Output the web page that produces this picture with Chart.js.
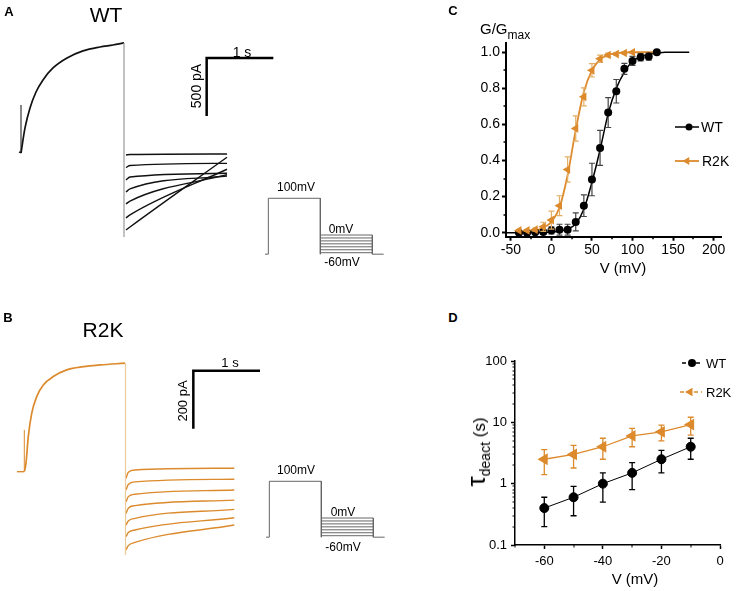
<!DOCTYPE html>
<html><head><meta charset="utf-8">
<script src="https://cdn.jsdelivr.net/npm/chart.js@4.4.0/dist/chart.umd.min.js"></script>
<style>
html,body{margin:0;padding:0;background:#fff;}
body{width:738px;height:591px;position:relative;overflow:hidden;font-family:"Liberation Sans",Arial,sans-serif;color:#000;}
canvas{position:absolute;}
.t{position:absolute;white-space:nowrap;line-height:1;transform:translate(-50%,-50%);}
.l{position:absolute;white-space:nowrap;line-height:1;transform:translate(0,-50%);}
.b{font-weight:bold;font-size:13px;}
</style></head><body>
<canvas id="cA" width="300" height="290" style="left:0;top:0"></canvas>
<canvas id="pA" width="140" height="70" style="left:255px;top:190px"></canvas>
<canvas id="cB" width="300" height="290" style="left:0;top:300px"></canvas>
<canvas id="pB" width="140" height="70" style="left:256px;top:473.3px"></canvas>
<canvas id="cC" width="292" height="250" style="left:440px;top:30px"></canvas>
<canvas id="cD" width="292" height="245" style="left:440px;top:340px"></canvas>

<div class="t b" style="left:9px;top:11px">A</div>
<div class="t" style="left:106px;top:14px;font-size:21px">WT</div>
<div class="t" style="left:242px;top:52px;font-size:14px">1 s</div>
<div class="t" style="left:196px;top:86px;font-size:14px;transform:translate(-50%,-50%) rotate(-90deg)">500 pA</div>
<div class="t" style="left:296px;top:187px;font-size:12px">100mV</div>
<div class="t" style="left:341px;top:229px;font-size:12px">0mV</div>
<div class="t" style="left:342px;top:262px;font-size:12px">-60mV</div>

<div class="t b" style="left:8px;top:317px">B</div>
<div class="t" style="left:103px;top:329px;font-size:21px">R2K</div>
<div class="t" style="left:230px;top:362px;font-size:13px">1 s</div>
<div class="t" style="left:182px;top:401px;font-size:13px;transform:translate(-50%,-50%) rotate(-90deg)">200 pA</div>
<div class="t" style="left:296px;top:470px;font-size:12px">100mV</div>
<div class="t" style="left:343px;top:512px;font-size:12px">0mV</div>
<div class="t" style="left:343px;top:547px;font-size:12px">-60mV</div>

<div class="t b" style="left:453px;top:10px">C</div>
<div class="l" style="left:480px;top:28px;font-size:15px">G/G<span style="font-size:12px;position:relative;top:5px">max</span></div>
<div class="t" style="left:623px;top:267px;font-size:15px">V (mV)</div>
<div class="l" style="left:701px;top:127px;font-size:14px">WT</div>
<div class="l" style="left:702px;top:161px;font-size:14px">R2K</div>

<div class="t b" style="left:453px;top:317px">D</div>
<div class="t" style="left:476px;top:452px;transform:translate(-50%,-50%) rotate(-90deg)"><span style="font-size:26px">τ</span><span style="font-size:14px;position:relative;top:5px">deact</span><span style="font-size:17px"> (s)</span></div>
<div class="t" style="left:635px;top:578px;font-size:15px">V (mV)</div>
<div class="l" style="left:706px;top:363px;font-size:13px">WT</div>
<div class="l" style="left:706px;top:392px;font-size:13px">R2K</div>

<script>
// ===== Panel A: WT current traces (time in s, current in pA) =====
const wtBaseT = [-0.015, 0.015];
const wtBaseI = [20, 11];
const wtSpikeT = [0.015, 0.015];
const wtSpikeI = [11, 425];
const wtActT = [0.015, 0.075, 0.15, 0.24, 0.345, 0.495, 0.705, 0.945, 1.2, 1.395, 1.56];
const wtActI = [11, 227, 399, 537, 641, 744, 830, 891, 925, 942, 960];
const wtOffT = [1.56, 1.56];
const wtOffI = [960, -713];
const wtTailT = [1.59, 1.65, 3.105];
const wtTail1 = [-6, -2, 3];
const wtTail2 = [-114, -97, -78];
const wtTail3 = [-222, -196, -164];
const wtTail4 = [-325, -299, -187];
const wtTail5 = [-428, -403, -176];
const wtTail6 = [-549, -523, -129];
const wtTail7 = [-653, -627, -26];
const wtBarT = [2.8, 3.8];      // 1 s
const wtBarI = [830, 330];      // 500 pA

// ===== Panel B: R2K current traces =====
const r2kBaseT = [-0.045, 0.0645];
const r2kBaseI = [-2, -2];
const r2kSpikeT = [0.0645, 0.0645];
const r2kSpikeI = [-2, 142];
const r2kActT = [0.069, 0.09, 0.1245, 0.1755, 0.2505, 0.3495, 0.4995, 0.7005, 0.9495, 1.2, 1.575];
const r2kActI = [0, 28, 119, 199, 257, 297, 326, 349, 360, 366, 372];
const r2kOffT = [1.5825, 1.5825];
const r2kOffI = [372, -289];
const r2kTailT = [1.59, 1.6245, 1.725, 3.2145];
const r2kTail1 = [-25, -4, 4, 10];
const r2kTail2 = [-65, -46, -37, -28];
const r2kTail3 = [-106, -88, -80, -65];
const r2kTail4 = [-146, -128, -119, -100];
const r2kTail5 = [-186, -172, -163, -132];
const r2kTail6 = [-226, -212, -203, -161];
const r2kTail7 = [-272, -257, -246, -186];
const r2kBarT = [2.6, 3.6];     // 1 s
const r2kBarI = [346, 146];     // 200 pA

// ===== Voltage protocol (schematic time, mV) =====
const protoT = [0, 0.05, 0.83, 1.61, 1.78];
const protoHoldMV = -65;
const protoStepMV = 100;
const protoTailMV = [0, -10, -20, -30, -40, -50, -60];

// ===== Panel C: G/Gmax vs V =====
const gvTicksX = [-50, 0, 50, 100, 150, 200];
const gvTicksY = [0, 0.2, 0.4, 0.6, 0.8, 1.0];
const gvMinorX = [-25, 25, 75, 125, 175];
const gvMinorY = [0.1, 0.3, 0.5, 0.7, 0.9];
const gvV_WT = [-40, -30, -20, -10, 0, 10, 20, 30, 40, 50, 60, 70, 80, 90, 100, 110, 120, 130];
const gvWT = [0, 0, 0.002, 0.004, 0.013, 0.017, 0.017, 0.06, 0.15, 0.295, 0.47, 0.666, 0.784, 0.908, 0.952, 0.972, 0.976, 1.0];
const gvWTerr = [0, 0, 0, 0.01, 0.02, 0.03, 0.03, 0.05, 0.06, 0.09, 0.097, 0.083, 0.065, 0.03, 0.025, 0.02, 0.02, 0];
const gvV_R2K = [-40, -30, -20, -10, 0, 10, 20, 30, 40, 50, 60, 70, 80, 90, 100];
const gvR2K = [0.013, 0.013, 0.017, 0.033, 0.07, 0.15, 0.35, 0.578, 0.753, 0.9, 0.964, 0.985, 0.99, 0.996, 1.0];
const gvR2Kerr = [0, 0.005, 0.008, 0.025, 0.05, 0.055, 0.07, 0.07, 0.05, 0.037, 0.02, 0.01, 0.008, 0.005, 0];
const fitV_WT = [-56, -20, 0, 10, 20, 30, 40, 50, 60, 70, 80, 90, 100, 110, 120, 130, 140, 170];
const fitWT = [0, 0.001, 0.004, 0.01, 0.02, 0.05, 0.13, 0.28, 0.46, 0.66, 0.8, 0.89, 0.95, 0.975, 0.99, 0.995, 1, 1];
const fitV_R2K = [-45, -30, -20, -10, 0, 10, 20, 30, 40, 50, 60, 70, 80, 100, 130];
const fitR2K = [0.003, 0.006, 0.012, 0.028, 0.06, 0.14, 0.32, 0.57, 0.78, 0.9, 0.96, 0.985, 0.995, 1, 1];

// ===== Panel D: tau_deact vs V =====
const tauTicksX = [-60, -40, -20, 0];
const tauMinorX = [-70, -50, -30, -10];
const tauTicksY = [0.1, 1, 10, 100];
const tauMinorY = [0.2,0.3,0.4,0.5,0.6,0.7,0.8,0.9,2,3,4,5,6,7,8,9,20,30,40,50,60,70,80,90];
const tauV = [-60, -50, -40, -30, -20, -10];
const tauWT = [0.4, 0.6, 1.0, 1.5, 2.5, 4.0];
const tauWTlo = [0.2, 0.3, 0.5, 0.8, 1.5, 2.5];
const tauWThi = [0.6, 0.9, 1.5, 2.2, 3.5, 5.5];
const tauR2K = [2.5, 3.0, 4.0, 6.0, 7.0, 9.2];
const tauR2Klo = [1.4, 1.8, 2.5, 4.0, 5.0, 6.2];
const tauR2Khi = [3.6, 4.2, 5.5, 8.0, 9.0, 12.1];

const ORANGE = '#DC8A2C';
Chart.defaults.font.family = '"Liberation Sans", Arial, Helvetica, sans-serif';
Chart.defaults.color = '#000';
Chart.defaults.animation = false;

const pts = (xs, ys) => xs.map((x, i) => ({x: x, y: ys[i]}));
function lineDs(data, color, width, mono) {
  return {data: data, showLine: true, borderColor: color, backgroundColor: color, borderWidth: width,
          pointRadius: 0, pointHoverRadius: 0, tension: 0, fill: false,
          cubicInterpolationMode: mono ? 'monotone' : 'default', borderJoinStyle: 'miter'};
}
function bareOpts(xmin, xmax, ymin, ymax, ytype) {
  return {responsive: false, devicePixelRatio: 1, events: [], layout: {padding: 0},
    plugins: {legend: {display: false}, tooltip: {enabled: false}},
    scales: {x: {type: 'linear', display: false, min: xmin, max: xmax},
             y: {type: ytype || 'linear', display: false, min: ymin, max: ymax}}};
}

// piecewise display scale for the schematic protocol (negative steps drawn compressed)
class PiecewiseScale extends Chart.LinearScale {
  getPixelForValue(v) { return super.getPixelForValue(v < 0 ? v * 0.804 : v); }
}
PiecewiseScale.id = 'piecewise';
PiecewiseScale.defaults = Chart.LinearScale.defaults;
Chart.register(PiecewiseScale);

function traceChart(id, base, spike, act, off, tailT, tails, bar, color, offColor, xmin, xmax, ymin, ymax) {
  const ds = [];
  ds.push(lineDs(pts(off[0], off[1]), offColor, 1.2));
  tails.forEach(tl => ds.push(lineDs(pts(tailT, tl), color, 1.4, true)));
  ds.push(lineDs(pts(base[0], base[1]), color, 1.4));
  ds.push(lineDs(pts(spike[0], spike[1]), color, 1));
  ds.push(lineDs(pts(act[0], act[1]), color, 1.7, true));
  const barPts = [{x: bar[0][0], y: bar[1][1]}, {x: bar[0][0], y: bar[1][0]}, {x: bar[0][1], y: bar[1][0]}];
  ds.push(lineDs(barPts, '#000', 2.5));
  new Chart(document.getElementById(id), {type: 'scatter', data: {datasets: ds},
    options: bareOpts(xmin, xmax, ymin, ymax)});
}
traceChart('cA', [wtBaseT, wtBaseI], [wtSpikeT, wtSpikeI], [wtActT, wtActI], [wtOffT, wtOffI],
  wtTailT, [wtTail1, wtTail2, wtTail3, wtTail4, wtTail5, wtTail6, wtTail7], [wtBarT, wtBarI],
  '#111', '#9a9a9a', -0.3, 4.2, -1170, 1330);
traceChart('cB', [r2kBaseT, r2kBaseI], [r2kSpikeT, r2kSpikeI], [r2kActT, r2kActI], [r2kOffT, r2kOffI],
  r2kTailT, [r2kTail1, r2kTail2, r2kTail3, r2kTail4, r2kTail5, r2kTail6, r2kTail7], [r2kBarT, r2kBarI],
  ORANGE, '#EDCB98', -0.3, 4.2, -410, 590);

function protoChart(id) {
  const T = protoT, h = protoHoldMV, s = protoStepMV;
  const ds = [];
  ds.push(lineDs([{x:T[0],y:h},{x:T[1],y:h},{x:T[1],y:s},{x:T[2],y:s},{x:T[2],y:h}], '#666', 1));
  protoTailMV.forEach(v => ds.push(lineDs([{x:T[2],y:v},{x:T[3],y:v}], '#666', 1)));
  ds.push(lineDs([{x:T[3],y:protoTailMV[0]},{x:T[3],y:h},{x:T[4],y:h}], '#666', 1));
  new Chart(document.getElementById(id), {type: 'scatter', data: {datasets: ds},
    options: bareOpts(-0.15, 1.95, -68.1, 122.6, 'piecewise')});
}
protoChart('pA');
protoChart('pB');

// ---------- helpers for panels C and D ----------
const errPlugin = {
  id: 'errbars',
  beforeDatasetDraw(chart, args) {
    const ds = chart.data.datasets[args.index];
    if (!ds.errLo) return;
    const xs = chart.scales.x, ys = chart.scales.y, ctx = chart.ctx;
    ctx.save();
    ctx.strokeStyle = ds.errColor; ctx.lineWidth = ds.errWidth || 1;
    const cap = ds.errCap || 3;
    ds.data.forEach((p, i) => {
      const lo = ds.errLo[i], hi = ds.errHi[i];
      if (!(hi > lo)) return;
      const x = xs.getPixelForValue(p.x), y1 = ys.getPixelForValue(lo), y2 = ys.getPixelForValue(hi);
      ctx.beginPath();
      ctx.moveTo(x, y1); ctx.lineTo(x, y2);
      ctx.moveTo(x - cap, y1); ctx.lineTo(x + cap, y1);
      ctx.moveTo(x - cap, y2); ctx.lineTo(x + cap, y2);
      ctx.stroke();
    });
    ctx.restore();
  }
};
function minorPlugin(mx, my, len, w) {
  return {id: 'minor', afterDraw(chart) {
    const ctx = chart.ctx, a = chart.chartArea, xs = chart.scales.x, ys = chart.scales.y;
    ctx.save(); ctx.strokeStyle = '#000'; ctx.lineWidth = w;
    ctx.beginPath();
    mx.forEach(v => { const x = Math.round(xs.getPixelForValue(v)); ctx.moveTo(x, a.bottom); ctx.lineTo(x, a.bottom + len); });
    my.forEach(v => { const y = Math.round(ys.getPixelForValue(v)); ctx.moveTo(a.left, y); ctx.lineTo(a.left - len, y); });
    ctx.stroke(); ctx.restore();
  }};
}
function legendPlugin(items) {
  return {id: 'lgd', afterDraw(chart) {
    const ctx = chart.ctx;
    items.forEach(it => {
      ctx.save();
      ctx.strokeStyle = it.color; ctx.fillStyle = it.color; ctx.lineWidth = it.lw;
      ctx.setLineDash(it.dash || []);
      ctx.beginPath(); ctx.moveTo(it.x0, it.y); ctx.lineTo(it.x1, it.y); ctx.stroke();
      ctx.setLineDash([]);
      Chart.helpers.drawPoint(ctx, {pointStyle: it.style, radius: it.r, rotation: it.rot || 0, borderWidth: 0}, it.mx, it.y);
      ctx.restore();
    });
  }};
}
function axis(min, max, type, ticks, fmt, fitKey, fitVal, fontSize, tlen, pad, bw) {
  return {type: type, min: min, max: max,
    afterBuildTicks: s => { s.ticks = ticks.map(v => ({value: v})); },
    afterFit: s => { s[fitKey] = fitVal; s.paddingLeft = 0; s.paddingRight = 0; s.paddingTop = 0; s.paddingBottom = 0; },
    ticks: {font: {size: fontSize}, color: '#000', padding: pad, maxRotation: 0, autoSkip: false, callback: fmt},
    grid: {display: true, drawOnChartArea: false, drawTicks: true, tickLength: tlen, tickWidth: bw, tickColor: '#000'},
    border: {display: true, color: '#000', width: bw}};
}

// ---------- Panel C ----------
new Chart(document.getElementById('cC'), {
  type: 'scatter',
  data: {datasets: [
    {data: pts(gvV_R2K, gvR2K), pointStyle: 'triangle', rotation: -90, pointRadius: 5, pointHoverRadius: 5,
     backgroundColor: ORANGE, borderColor: ORANGE, borderWidth: 0, showLine: false,
     errLo: gvR2K.map((v, i) => v - gvR2Kerr[i]), errHi: gvR2K.map((v, i) => v + gvR2Kerr[i]), errColor: '#E3AE63', errCap: 3, errWidth: 1.2},
    {data: pts(gvV_WT, gvWT), pointStyle: 'circle', pointRadius: 4, pointHoverRadius: 4,
     backgroundColor: '#000', borderColor: '#000', borderWidth: 0, showLine: false,
     errLo: gvWT.map((v, i) => v - gvWTerr[i]), errHi: gvWT.map((v, i) => v + gvWTerr[i]), errColor: '#444', errCap: 3, errWidth: 1.2},
    lineDs(pts(fitV_R2K, fitR2K), ORANGE, 1.8, true),
    lineDs(pts(fitV_WT, fitWT), '#000', 1.5, true)
  ]},
  options: {responsive: false, devicePixelRatio: 1, events: [],
    layout: {padding: {left: 0, top: 12.7, right: 10.3, bottom: 0}},
    plugins: {legend: {display: false}, tooltip: {enabled: false}},
    scales: {
      x: axis(-56, 210, 'linear', gvTicksX, v => String(v), 'height', 43.3, 14, 4, 1, 2),
      y: axis(-0.022, 1.053, 'linear', gvTicksY, v => v.toFixed(1), 'width', 66, 14, 4, 2, 2)
    }},
  plugins: [errPlugin, minorPlugin(gvMinorX, gvMinorY, 2.5, 1.5), legendPlugin([
    {x0: 235, x1: 259, y: 97, mx: 249, color: '#000', lw: 1.5, style: 'circle', r: 3.5},
    {x0: 235, x1: 259, y: 131, mx: 247, color: ORANGE, lw: 1.8, style: 'triangle', r: 4.5, rot: -90}
  ])]
});

// ---------- Panel D ----------
new Chart(document.getElementById('cD'), {
  type: 'scatter',
  data: {datasets: [
    {data: pts(tauV, tauR2K), pointStyle: 'triangle', rotation: -90, pointRadius: 5.5, pointHoverRadius: 5.5,
     backgroundColor: ORANGE, borderColor: ORANGE, borderWidth: 0, showLine: true, borderWidth: 1.3,
     errLo: tauR2Klo, errHi: tauR2Khi, errColor: ORANGE, errCap: 3, errWidth: 1.3},
    {data: pts(tauV, tauWT), pointStyle: 'circle', pointRadius: 4.5, pointHoverRadius: 4.5,
     backgroundColor: '#000', borderColor: '#000', showLine: true, borderWidth: 1,
     errLo: tauWTlo, errHi: tauWThi, errColor: '#000', errCap: 3, errWidth: 1.3}
  ]},
  options: {responsive: false, devicePixelRatio: 1, events: [],
    layout: {padding: {left: 0, top: 21, right: 12, bottom: 0}},
    plugins: {legend: {display: false}, tooltip: {enabled: false}},
    scales: {
      x: axis(-70, 0, 'linear', tauTicksX, v => String(v), 'height', 40, 13, 4, 4.5, 1.5),
      y: axis(0.1, 100, 'logarithmic', tauTicksY, v => String(v), 'width', 75, 13, 4, 4, 1.5)
    }},
  plugins: [errPlugin, minorPlugin(tauMinorX, tauMinorY, 2.5, 1), legendPlugin([
    {x0: 242, x1: 262, y: 23, mx: 252, color: '#000', lw: 1.3, dash: [4, 3], style: 'circle', r: 4},
    {x0: 240, x1: 262, y: 52, mx: 250, color: ORANGE, lw: 1.3, dash: [4, 3], style: 'triangle', r: 5, rot: -90}
  ])]
});
</script>
</body></html>
